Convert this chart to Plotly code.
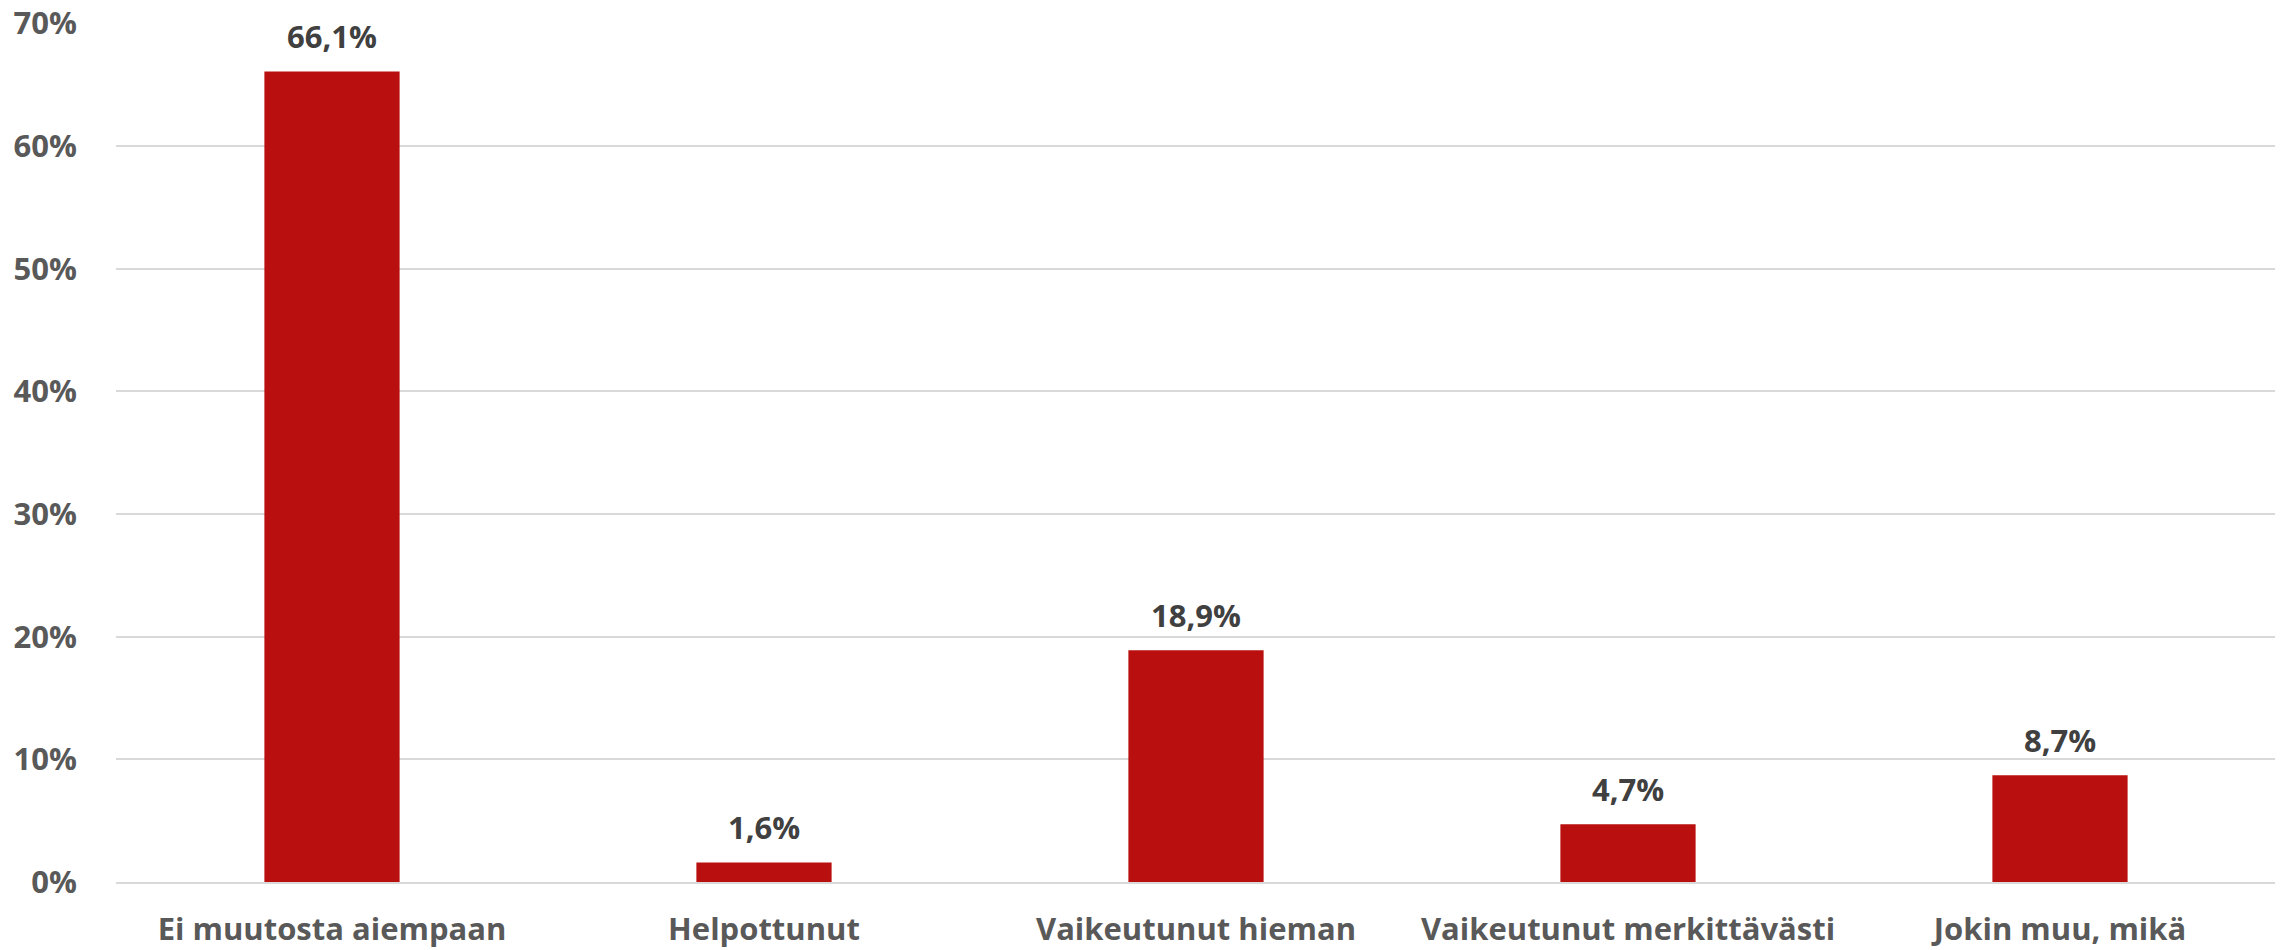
import plotly.graph_objects as go

categories = ["Ei muutosta aiempaan", "Helpottunut", "Vaikeutunut hieman",
              "Vaikeutunut merkittävästi", "Jokin muu, mikä"]
values = [66.1, 1.6, 18.9, 4.7, 8.7]
labels = [f"{v:.1f}".replace(".", ",") + "%" for v in values]
tick_vals = [0, 10, 20, 30, 40, 50, 60, 70]
tick_text = [f"{t}%" for t in tick_vals]

FONT = "Open Sans"
fig = go.Figure()
fig.add_trace(go.Bar(x=categories, y=values, marker=dict(color="#BA0F0F", line=dict(width=0)),
                     hoverinfo="skip"))

for c, v, t in zip(categories, values, labels):
    fig.add_annotation(x=c, y=v, text=f"<b>{t}</b>", showarrow=False, yanchor="bottom",
                       yshift=12, font=dict(family=FONT, size=31, color="#404040"))

fig.update_layout(
    width=2275, height=942,
    margin=dict(l=108, r=7, t=15, b=68),
    paper_bgcolor="white", plot_bgcolor="white",
    bargap=0.687,
    showlegend=False,
    font=dict(family=FONT),
)
fig.update_yaxes(range=[0, 70.05], tickvals=tick_vals, ticktext=[f"<b>{t}</b>" for t in tick_text],
                 showgrid=True, gridcolor="#D9D9D9", gridwidth=2, zeroline=False,
                 showline=False, ticks="", ticklabelstandoff=38, automargin=False,
                 ticklabeloverflow="allow",
                 tickfont=dict(family=FONT, size=31, color="#595959"))
fig.update_xaxes(showline=True, linecolor="#D9D9D9", linewidth=2, ticks="",
                 tickvals=categories, ticktext=[f"<b>{c}</b>" for c in categories],
                 ticklabelstandoff=19, automargin=False,
                 tickfont=dict(family=FONT, size=31, color="#595959"))

fig.write_html("out.html")
